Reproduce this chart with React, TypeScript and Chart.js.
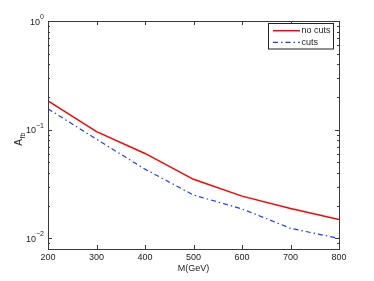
import React, { useEffect, useRef } from "react";
import { Chart, registerables } from "chart.js";

Chart.register(...registerables);

const masses = [200, 300, 400, 500, 600, 700, 800];
const noCuts = [0.184, 0.096, 0.0605, 0.035, 0.0245, 0.0189, 0.0149];
const cuts = [0.156, 0.0818, 0.0434, 0.0251, 0.0187, 0.0124, 0.01];
const xTicks = [200, 300, 400, 500, 600, 700, 800];
const yMajor = [0.01, 0.1, 1];
const yExp = ["\u22122", "\u22121", "0"];
const seriesNames = ["no cuts", "cuts"];

const FONT = "'Liberation Sans', Arial, sans-serif";
const AXIS_COLOR = "#3a3a3a";

const framePlugin = {
  id: "frame",
  afterDraw(chart: any) {
    const ctx = chart.ctx as CanvasRenderingContext2D;
    const { left, right, top, bottom } = chart.chartArea;
    const xs = chart.scales.x;
    const ys = chart.scales.y;
    ctx.save();
    ctx.strokeStyle = AXIS_COLOR;
    ctx.lineWidth = 1;
    ctx.strokeRect(Math.round(left) + 0.5, Math.round(top) + 0.5, Math.round(right - left), Math.round(bottom - top));
    ctx.beginPath();
    for (const v of xTicks) {
      const px = Math.round(xs.getPixelForValue(v)) + 0.5;
      ctx.moveTo(px, bottom);
      ctx.lineTo(px, bottom - 4);
      ctx.moveTo(px, top);
      ctx.lineTo(px, top + 4);
    }
    for (let e = -3; e <= 0; e++) {
      for (let m = 1; m <= 9; m++) {
        const v = m * Math.pow(10, e);
        if (v < ys.min - 1e-12 || v > ys.max + 1e-12) continue;
        const py = Math.round(ys.getPixelForValue(v)) + 0.5;
        const len = m === 1 ? 4 : 2;
        ctx.moveTo(left, py);
        ctx.lineTo(left + len, py);
        ctx.moveTo(right, py);
        ctx.lineTo(right - len, py);
      }
    }
    ctx.stroke();
    ctx.fillStyle = "#222";
    ctx.font = `9px ${FONT}`;
    ctx.textAlign = "center";
    ctx.textBaseline = "middle";
    for (const v of xTicks) {
      ctx.fillText(String(v), xs.getPixelForValue(v), bottom + 9);
    }
    ctx.fillText("M(GeV)", (left + right) / 2, bottom + 20);
    yMajor.forEach((v, i) => {
      const py = ys.getPixelForValue(v);
      ctx.font = `7px ${FONT}`;
      const ew = ctx.measureText(yExp[i]).width;
      ctx.textAlign = "left";
      ctx.textBaseline = "alphabetic";
      const xEnd = left - 4;
      ctx.fillText(yExp[i], xEnd - ew, py - 2);
      ctx.font = `9px ${FONT}`;
      const bw = ctx.measureText("10").width;
      ctx.fillText("10", xEnd - ew - bw, py + 3.5);
    });
    ctx.save();
    ctx.translate(22, (top + bottom) / 2 + 4);
    ctx.rotate(-Math.PI / 2);
    ctx.textAlign = "left";
    ctx.textBaseline = "alphabetic";
    ctx.font = `10px ${FONT}`;
    const aw = ctx.measureText("A").width;
    ctx.fillText("A", -aw, 0);
    ctx.font = `7px ${FONT}`;
    ctx.fillText("fb", 0.5, 3);
    ctx.restore();
    const lx = 268.5, ly = 23.5, lw = 65, lh = 25.5;
    ctx.fillStyle = "#fff";
    ctx.fillRect(lx, ly, lw, lh);
    ctx.strokeStyle = "#222";
    ctx.lineWidth = 1;
    ctx.strokeRect(lx, ly, lw, lh);
    const rows = [30.7, 42.3];
    const ds = chart.data.datasets;
    rows.forEach((ry, i) => {
      ctx.beginPath();
      ctx.strokeStyle = ds[i].borderColor;
      ctx.lineWidth = ds[i].borderWidth;
      ctx.setLineDash(ds[i].borderDash || []);
      ctx.moveTo(273, ry);
      ctx.lineTo(300, ry);
      ctx.stroke();
      ctx.setLineDash([]);
      ctx.fillStyle = "#222";
      ctx.font = `9px ${FONT}`;
      ctx.textAlign = "left";
      ctx.textBaseline = "middle";
      ctx.fillText(seriesNames[i], 301.5, ry);
    });
    ctx.restore();
  },
};

export default function App() {
  const ref = useRef<HTMLCanvasElement | null>(null);
  useEffect(() => {
    if (!ref.current) return;
    const chart = new Chart(ref.current, {
      type: "line",
      data: {
        datasets: [
          {
            label: seriesNames[0],
            data: masses.map((m, i) => ({ x: m, y: noCuts[i] })),
            borderColor: "#ff0000",
            borderWidth: 1.5,
            pointRadius: 0,
            tension: 0,
            fill: false,
          },
          {
            label: seriesNames[1],
            data: masses.map((m, i) => ({ x: m, y: cuts[i] })),
            borderColor: "#1a3cff",
            borderWidth: 1.2,
            borderDash: [5, 3, 1.5, 3],
            pointRadius: 0,
            tension: 0,
            fill: false,
          },
        ],
      },
      options: {
        animation: false,
        responsive: false,
        maintainAspectRatio: false,
        layout: { padding: { left: 0, right: 35, top: 21, bottom: 0 } },
        plugins: { legend: { display: false }, tooltip: { enabled: false } },
        scales: {
          x: {
            type: "linear",
            min: 200,
            max: 800,
            ticks: { display: false },
            grid: { display: false },
            border: { display: false },
            afterFit: (s: any) => {
              s.height = 32;
            },
          },
          y: {
            type: "logarithmic",
            min: 0.008,
            max: 1,
            ticks: { display: false },
            grid: { display: false },
            border: { display: false },
            afterFit: (s: any) => {
              s.width = 48;
            },
          },
        },
      },
      plugins: [framePlugin],
    });
    return () => chart.destroy();
  }, []);
  return (
    <div style={{ position: "fixed", left: 0, top: 0, width: 374, height: 281, background: "#fff" }}>
      <canvas ref={ref} width={374} height={281} style={{ width: 374, height: 281 }} />
    </div>
  );
}
